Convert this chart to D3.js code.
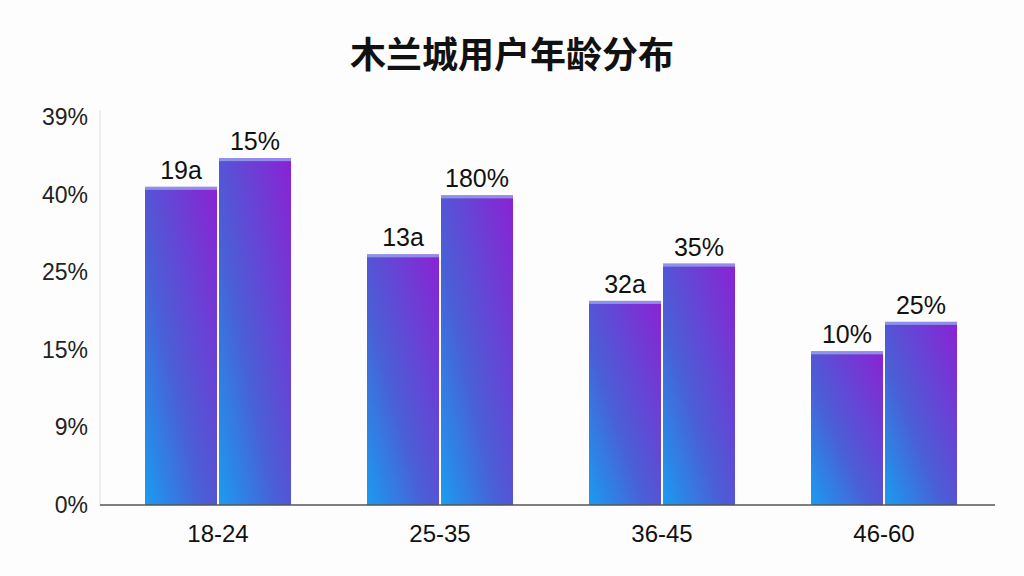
<!DOCTYPE html>
<html><head><meta charset="utf-8">
<script src="https://cdn.jsdelivr.net/npm/d3@7"></script>
<style>body{margin:0;background:#fdfdfd;font-family:"Liberation Sans","Noto Sans CJK SC",sans-serif}</style>
</head><body><div class="main"></div>
<script>
// Categories and values (in tick-step units, ticks are evenly spaced)
let categories = ["18-24", "25-35", "36-45", "46-60"];
let seriesA = [4.10, 3.23, 2.63, 1.98];
let seriesB = [4.47, 3.99, 3.11, 2.36];
let labelsA = ["19a", "13a", "32a", "10%"];
let labelsB = ["15%", "180%", "35%", "25%"];
let tickLabels = ["0%", "9%", "15%", "25%", "40%", "39%"];

let width = 1024, height = 576;
let svg = d3.select("div.main").append("svg")
    .attr("width", width).attr("height", height);

let x = d3.scaleBand().domain(categories).range([107, 995]);
let y = d3.scaleLinear().domain([0, 5]).range([505, 117]);

// each bar gets its own blue -> purple gradient
let defs = svg.append("defs");
let grad = defs.append("linearGradient").attr("id", "g")
    .attr("x1", 0).attr("y1", 1).attr("x2", 1).attr("y2", 0);
grad.append("stop").attr("offset", 0).attr("stop-color", "#1a9cf0");
grad.append("stop").attr("offset", 0.4).attr("stop-color", "#4a5fd6");
grad.append("stop").attr("offset", 1).attr("stop-color", "#8a22d4");

svg.append("text").attr("x", 512).attr("y", 68).attr("text-anchor", "middle")
    .attr("font-family", "Noto Sans CJK SC")
    .attr("font-size", 36).attr("font-weight", "bold").attr("fill", "#111")
    .text("木兰城用户年龄分布");

// y tick labels
svg.selectAll("text.yt").data(tickLabels).enter().append("text")
    .attr("x", 88).attr("y", (d, i) => y(i) + 8).attr("text-anchor", "end")
    .attr("font-size", 23).attr("fill", "#222").text(d => d);

svg.append("line").attr("x1", 100).attr("x2", 100).attr("y1", 110).attr("y2", 505)
    .attr("stroke", "#ddd");

let bw = 72;
categories.forEach(function(c, i) {
    let cx = x(c) + x.bandwidth() / 2;
    [[seriesA[i], labelsA[i], cx - bw - 1], [seriesB[i], labelsB[i], cx + 1]].forEach(function(s) {
        svg.append("rect").attr("x", s[2]).attr("width", bw)
            .attr("y", y(s[0])).attr("height", y(0) - y(s[0])).attr("fill", "url(#g)");
        svg.append("rect").attr("x", s[2]).attr("width", bw)
            .attr("y", y(s[0])).attr("height", 3).attr("fill", "#9aa4ee").attr("opacity", 0.8);
        svg.append("text").attr("x", s[2] + bw / 2).attr("y", y(s[0]) - 8)
            .attr("text-anchor", "middle").attr("font-size", 25).attr("fill", "#111").text(s[1]);
    });
    svg.append("text").attr("x", cx).attr("y", 542).attr("text-anchor", "middle")
        .attr("font-size", 24).attr("fill", "#111").text(c);
});

svg.append("line").attr("x1", 100).attr("x2", 995).attr("y1", 505).attr("y2", 505)
    .attr("stroke", "#555").attr("stroke-width", 1.5);
</script></body></html>
